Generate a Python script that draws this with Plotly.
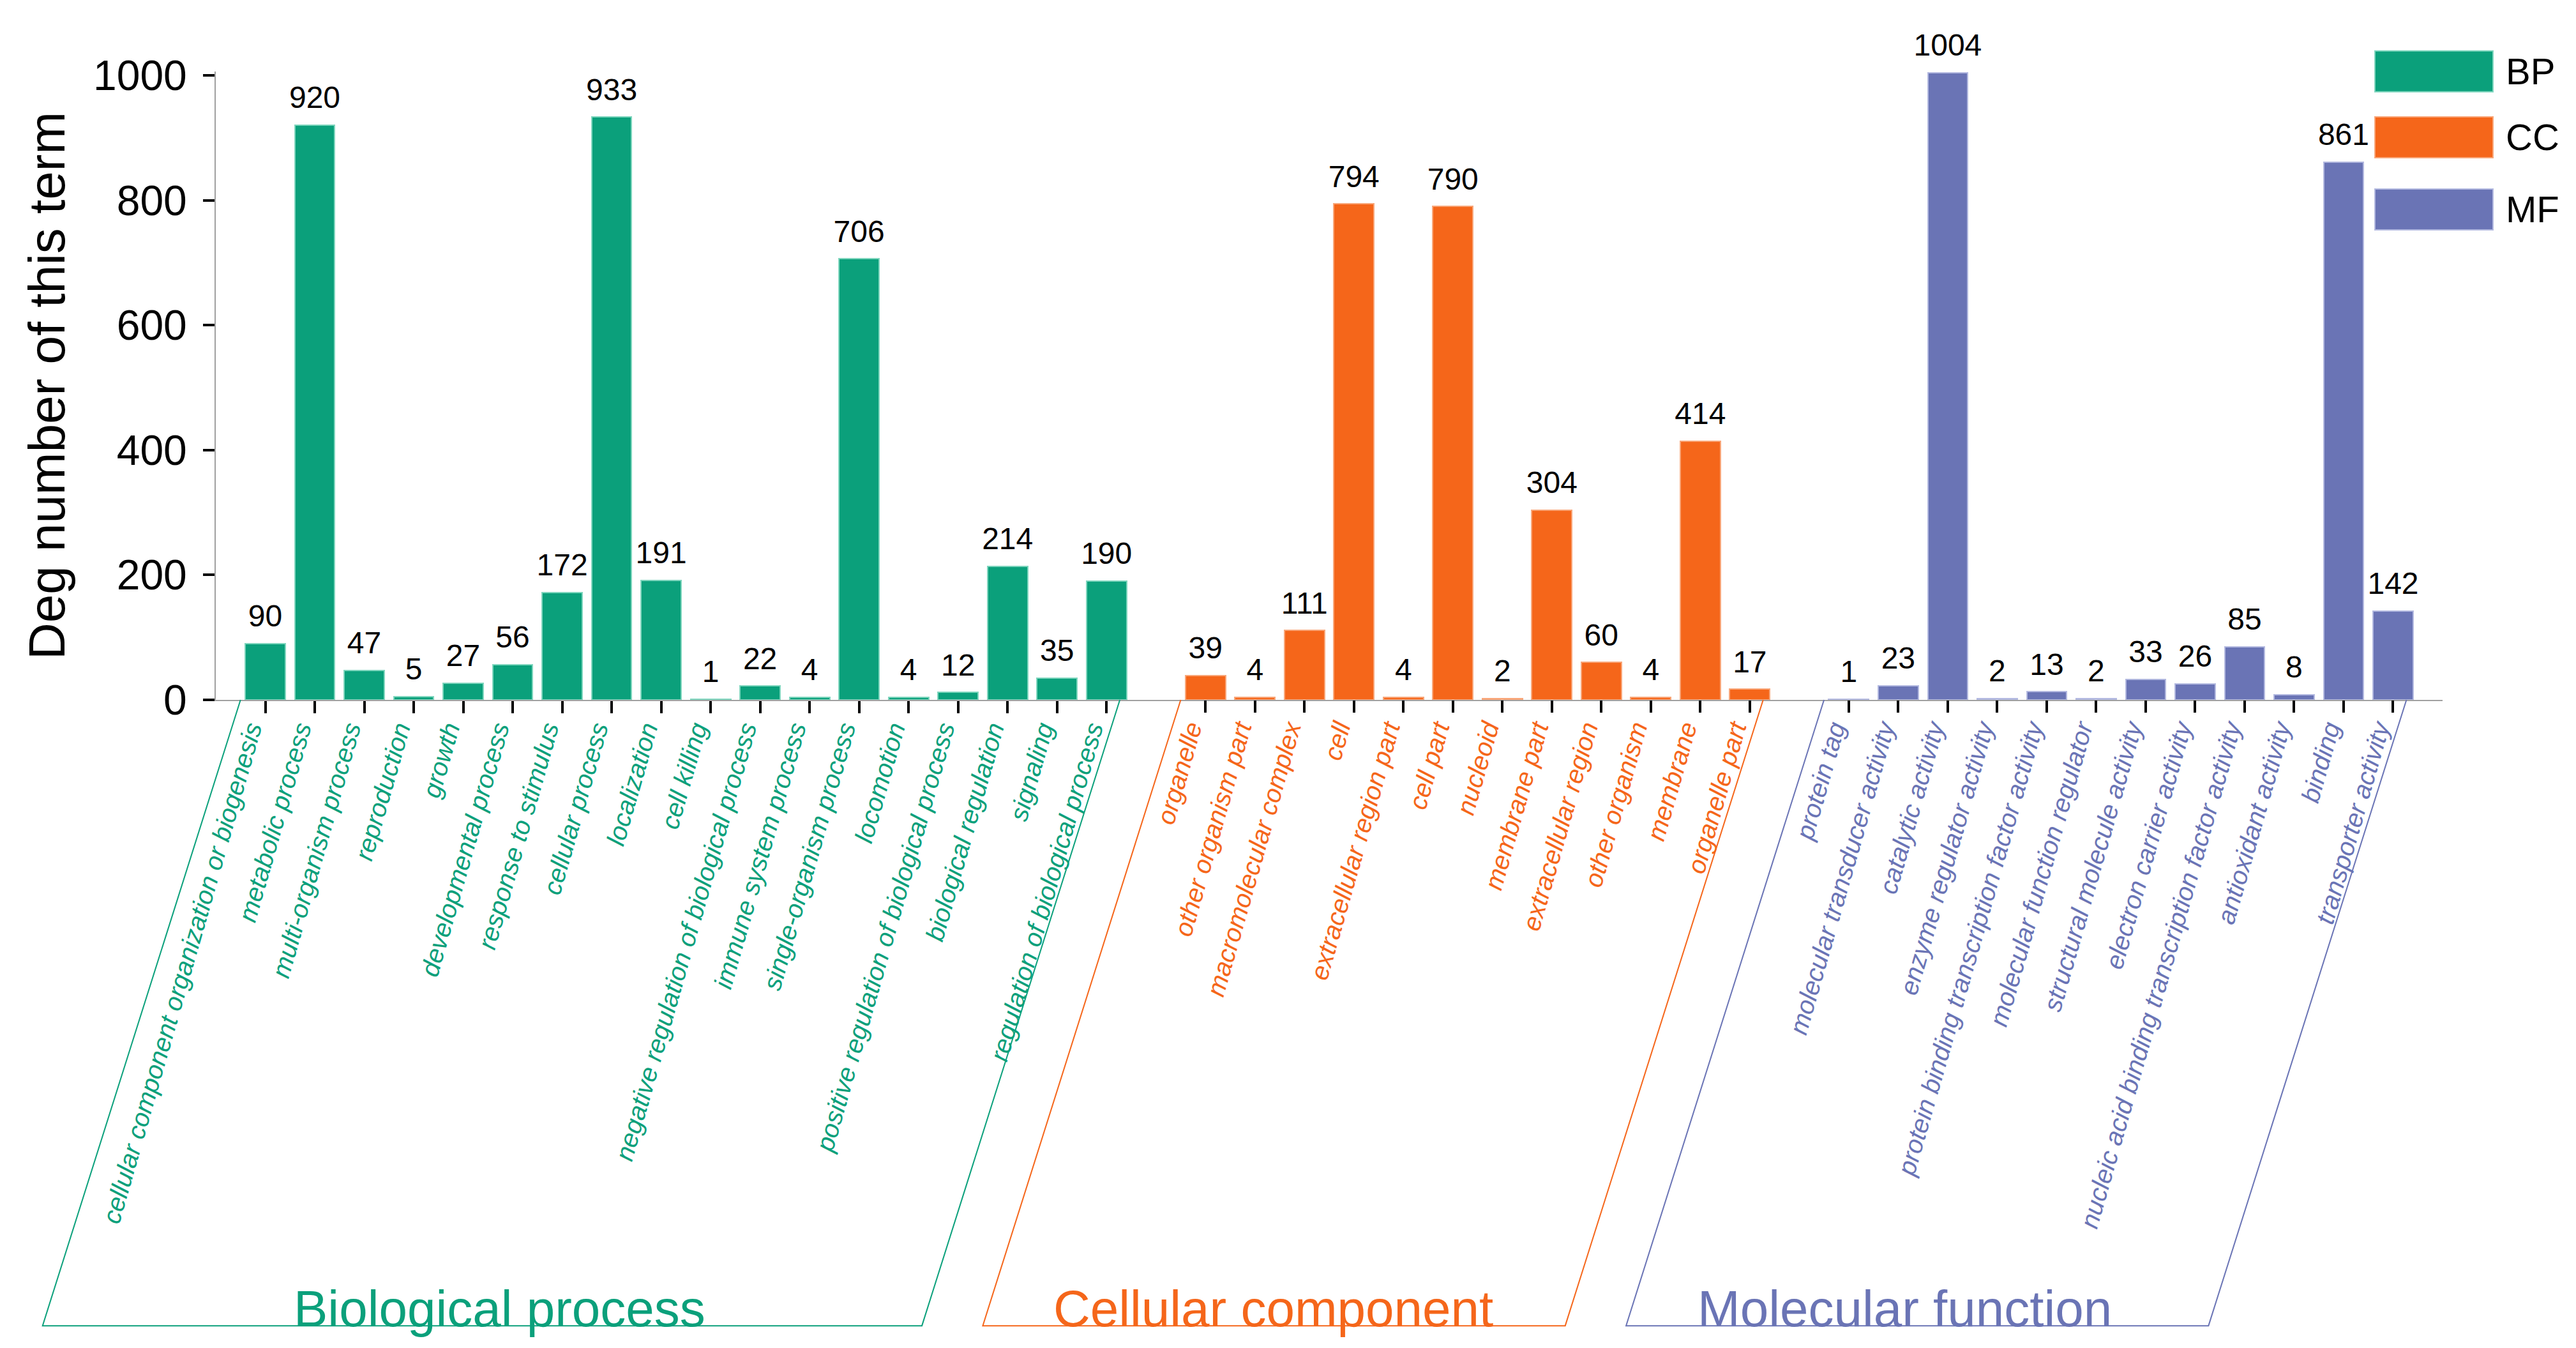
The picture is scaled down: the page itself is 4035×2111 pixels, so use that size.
import plotly.graph_objects as go

# ---------------- data ----------------
bp_terms = [
    "cellular component organization or biogenesis", "metabolic process",
    "multi-organism process", "reproduction", "growth", "developmental process",
    "response to stimulus", "cellular process", "localization", "cell killing",
    "negative regulation of biological process", "immune system process",
    "single-organism process", "locomotion",
    "positive regulation of biological process", "biological regulation",
    "signaling", "regulation of biological process",
]
bp_counts = [90, 920, 47, 5, 27, 56, 172, 933, 191, 1, 22, 4, 706, 4, 12, 214, 35, 190]

cc_terms = [
    "organelle", "other organism part", "macromolecular complex", "cell",
    "extracellular region part", "cell part", "nucleoid", "membrane part",
    "extracellular region", "other organism", "membrane", "organelle part",
]
cc_counts = [39, 4, 111, 794, 4, 790, 2, 304, 60, 4, 414, 17]

mf_terms = [
    "protein tag", "molecular transducer activity", "catalytic activity",
    "enzyme regulator activity", "protein binding transcription factor activity",
    "molecular function regulator", "structural molecule activity",
    "electron carrier activity",
    "nucleic acid binding transcription factor activity", "antioxidant activity",
    "binding", "transporter activity",
]
mf_counts = [1, 23, 1004, 2, 13, 2, 33, 26, 85, 8, 861, 142]

group_keys = ["BP", "CC", "MF"]
group_titles = ["Biological process", "Cellular component", "Molecular function"]
y_title = "Deg number of this term"
y_ticks = [0, 200, 400, 600, 800, 1000]

# ---------------- styling ----------------
colors = ["#0BA07B", "#F5661A", "#6A74B5"]
edge_colors = ["#7FD6BE", "#F9A77A", "#B3B9E0"]
FONT = "Liberation Sans, Arial, Helvetica, sans-serif"

W, H = 4035, 2111
Y_MAX = 1006                     # a little head-room so the 1004 label is drawn
PL, PR, PB = 330, 3818, 1088
Y1000_PX = 110                   # pixel row of the 1000 tick
PT = PB - (PB - Y1000_PX) * Y_MAX / 1000.0


def px_x(p):
    return (p - PL) / (PR - PL)


def px_y(p):
    return (PB - p) / (PB - PT)


groups = [(bp_terms, bp_counts), (cc_terms, cc_counts), (mf_terms, mf_counts)]

# slot positions: one empty slot between groups
positions = []
start = 0
for terms, _ in groups:
    positions.append([start + i for i in range(len(terms))])
    start += len(terms) + 1

xr = [-1, start - 1]


def slot_to_paper(s):
    return (s - xr[0]) / (xr[1] - xr[0])


fig = go.Figure()
axis_names = ["x", "x2", "x3"]
for gi, (terms, counts) in enumerate(groups):
    fig.add_trace(go.Bar(
        x=positions[gi], y=counts, name=group_keys[gi],
        xaxis=axis_names[gi], yaxis="y",
        width=0.81,
        marker=dict(color=colors[gi], line=dict(color=edge_colors[gi], width=2)),
        showlegend=False, hovertext=terms,
    ))
    # value labels above the bars
    fig.add_trace(go.Scatter(
        x=positions[gi], y=counts, xaxis=axis_names[gi], yaxis="y",
        mode="markers+text", text=[str(c) for c in counts],
        textposition="top center",
        textfont=dict(family=FONT, size=48, color="black"),
        marker=dict(size=22, opacity=0), cliponaxis=False,
        showlegend=False, hoverinfo="skip",
    ))

common_x = dict(range=xr, showgrid=False, zeroline=False, ticks="outside",
                ticklen=19, tickwidth=4, tickcolor="black", tickangle=-74,
                ticklabelshift=-24, ticklabelstandoff=-14)

layout_axes = {}
for gi in range(3):
    key = "xaxis" if gi == 0 else f"xaxis{gi + 1}"
    d = dict(common_x)
    d.update(tickmode="array", tickvals=positions[gi], ticktext=groups[gi][0],
             tickfont=dict(family=FONT, size=40, color=colors[gi], style="italic"))
    if gi == 0:
        d.update(showline=True, linecolor="#A0A0A0", linewidth=2)
    else:
        d.update(overlaying="x", anchor="y", showline=False)
    layout_axes[key] = d

fig.update_layout(
    width=W, height=H,
    margin=dict(l=PL, r=W - PR, t=PT, b=H - PB, pad=0),
    paper_bgcolor="white", plot_bgcolor="white",
    font=dict(family=FONT, color="black"),
    bargap=0,
    yaxis=dict(range=[0, Y_MAX], tickvals=y_ticks, showgrid=False, zeroline=False,
               showline=True, linecolor="#A0A0A0", linewidth=2,
               ticks="outside", ticklen=18, tickwidth=4, tickcolor="black",
               ticklabelstandoff=12,
               tickfont=dict(family=FONT, size=66, color="black"),
               title=dict(text=y_title, font=dict(family=FONT, size=80, color="black"),
                          standoff=18)),
    **layout_axes,
)

# parallelogram brackets and group titles
bottom = px_y(2068)
slant = 4.0
title_x = [4.74, 20.37, 33.13]
for gi in range(3):
    x0 = positions[gi][0] - 0.5
    x1 = positions[gi][-1] + 0.27
    p = [slot_to_paper(v) for v in (x0, x0 - slant, x1 - slant, x1)]
    fig.add_shape(type="path", xref="paper", yref="paper",
                  path=f"M {p[0]},0 L {p[1]},{bottom} L {p[2]},{bottom} L {p[3]},0",
                  line=dict(color=colors[gi], width=2))
    fig.add_annotation(x=slot_to_paper(title_x[gi]), xref="paper", y=px_y(2088), yref="paper",
                       xanchor="center", yanchor="bottom", showarrow=False,
                       text=group_titles[gi],
                       font=dict(family=FONT, size=80, color=colors[gi]))

# manual legend with wide colour boxes
legend_centers = [104, 207, 320]
for gi in range(3):
    yc = legend_centers[gi]
    fig.add_shape(type="rect", xref="paper", yref="paper",
                  x0=px_x(3712), x1=px_x(3897), y0=px_y(yc + 32), y1=px_y(yc - 32),
                  fillcolor=colors[gi], line=dict(color=edge_colors[gi], width=2))
    fig.add_annotation(x=px_x(3915), xref="paper", y=px_y(yc), yref="paper",
                       xanchor="left", yanchor="middle", showarrow=False,
                       text=group_keys[gi],
                       font=dict(family=FONT, size=58, color="black"))

fig.write_html("out.html")
